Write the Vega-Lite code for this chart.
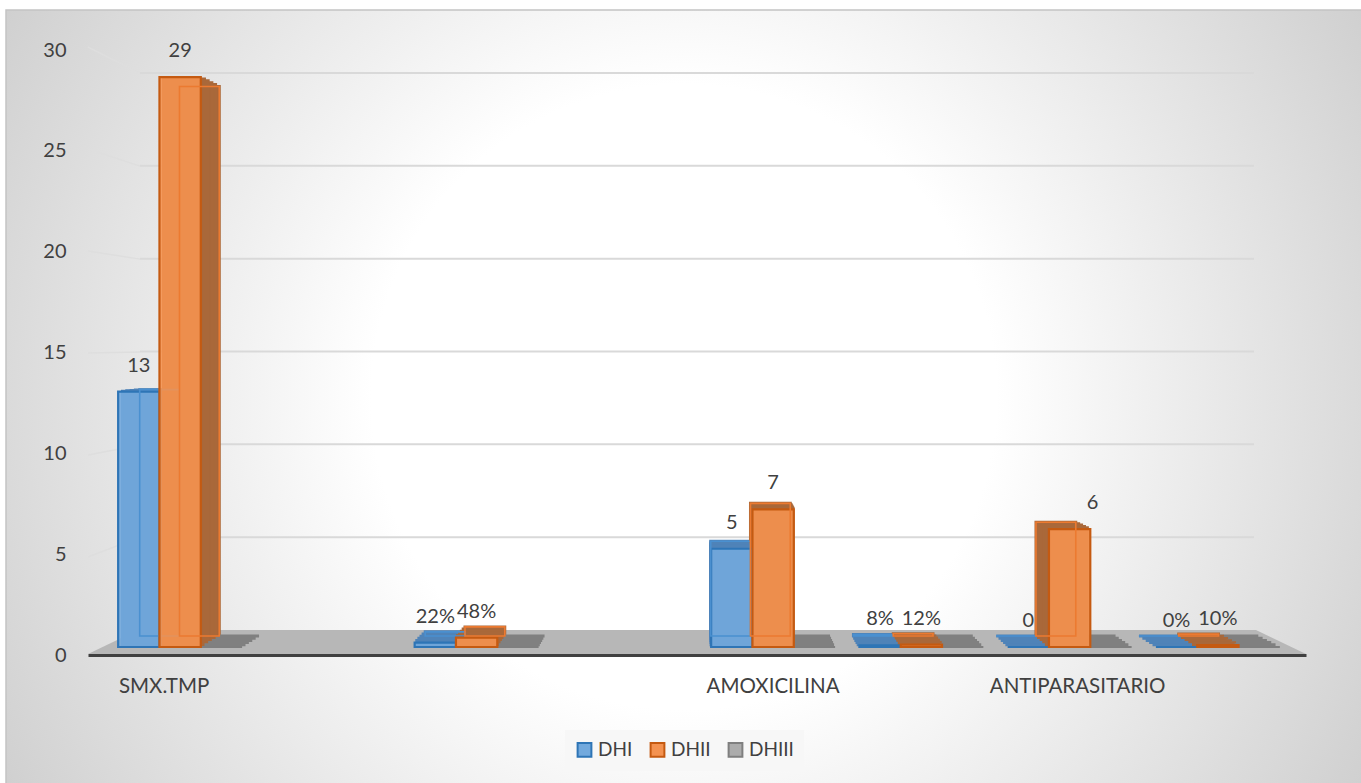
{
  "$schema": "https://vega.github.io/schema/vega-lite/v6.json",
  "width": 1361,
  "height": 783,
  "autosize": {"type": "none"},
  "padding": 0,
  "background": "white",
  "config": {
    "font": "Lato",
    "view": {"stroke": null},
    "scale": {"bandPaddingInner": 0, "bandPaddingOuter": 0, "barBandPaddingInner": 0, "bandWithNestedOffsetPaddingInner": 0, "bandWithNestedOffsetPaddingOuter": 0}
  },
  "datasets": {
    "tratamientos": [
      {"categoria": "SMX.TMP", "serie": "DHI", "valor": 13, "etiqueta": "13"},
      {"categoria": "SMX.TMP", "serie": "DHII", "valor": 29, "etiqueta": "29"},
      {"categoria": "SMX.TMP", "serie": "DHIII", "valor": 0, "etiqueta": ""},
      {"categoria": "SMX.TMP %", "serie": "DHI", "valor": 0.22, "etiqueta": "22%"},
      {"categoria": "SMX.TMP %", "serie": "DHII", "valor": 0.48, "etiqueta": "48%"},
      {"categoria": "SMX.TMP %", "serie": "DHIII", "valor": 0, "etiqueta": ""},
      {"categoria": "AMOXICILINA", "serie": "DHI", "valor": 5, "etiqueta": "5"},
      {"categoria": "AMOXICILINA", "serie": "DHII", "valor": 7, "etiqueta": "7"},
      {"categoria": "AMOXICILINA", "serie": "DHIII", "valor": 0, "etiqueta": ""},
      {"categoria": "AMOXICILINA %", "serie": "DHI", "valor": 0.08, "etiqueta": "8%"},
      {"categoria": "AMOXICILINA %", "serie": "DHII", "valor": 0.12, "etiqueta": "12%"},
      {"categoria": "AMOXICILINA %", "serie": "DHIII", "valor": 0, "etiqueta": ""},
      {"categoria": "ANTIPARASITARIO", "serie": "DHI", "valor": 0, "etiqueta": "0"},
      {"categoria": "ANTIPARASITARIO", "serie": "DHII", "valor": 6, "etiqueta": "6"},
      {"categoria": "ANTIPARASITARIO", "serie": "DHIII", "valor": 0, "etiqueta": ""},
      {"categoria": "ANTIPARASITARIO %", "serie": "DHI", "valor": 0, "etiqueta": "0%"},
      {"categoria": "ANTIPARASITARIO %", "serie": "DHII", "valor": 0.10, "etiqueta": "10%"},
      {"categoria": "ANTIPARASITARIO %", "serie": "DHIII", "valor": 0, "etiqueta": ""}
    ]
  },
  "resolve": {"scale": {"x": "independent", "y": "independent", "fill": "independent", "stroke": "independent"}},
  "layer": [
    {
      "data": {"values": [{}]},
      "mark": {
        "type": "rect",
        "stroke": "#c4c4c4",
        "strokeWidth": 1.5,
        "fill": {
          "gradient": "radial", "x1": 0.5, "y1": 0.5, "r1": 0, "x2": 0.5, "y2": 0.5, "r2": 0.72,
          "stops": [
            {"offset": 0, "color": "#ffffff"},
            {"offset": 0.32, "color": "#ffffff"},
            {"offset": 1, "color": "#bcbcbc"}
          ]
        }
      },
      "encoding": {
        "x": {"datum": 0, "axis": null, "scale": {"domain": [0, 1], "range": [6, 1362]}},
        "x2": {"datum": 1},
        "y": {"datum": 0, "axis": null, "scale": {"domain": [0, 1], "range": [784, 10]}},
        "y2": {"datum": 1}
      }
    },
    {
      "data": {"values": [{"nivel": 5}, {"nivel": 10}, {"nivel": 15}, {"nivel": 20}, {"nivel": 25}, {"nivel": 30}]},
      "mark": {"type": "rule", "color": "#d9d9d9", "strokeWidth": 2},
      "encoding": {
        "x": {"datum": 0, "axis": null, "scale": {"domain": [0, 1], "range": [140, 1254]}},
        "x2": {"datum": 1},
        "y": {"field": "nivel", "type": "quantitative", "axis": null, "scale": {"domain": [0, 30], "range": [630, 73]}}
      }
    },
    {
      "data": {"values": [{}]},
      "encoding": {
        "x": {"datum": 0, "axis": null, "scale": {"domain": [0, 1], "range": [88, 140]}},
        "x2": {"datum": 1}
      },
      "layer": [
        {"mark": {"type": "rule", "color": "#dedede", "strokeWidth": 1.5}, "encoding": {"y": {"datum": 30.14, "axis": null, "scale": {"domain": [0, 30], "range": [655, 50]}}, "y2": {"datum": 28.85}}},
        {"mark": {"type": "rule", "color": "#dedede", "strokeWidth": 1.5}, "encoding": {"y": {"datum": 25.09, "axis": null, "scale": {"domain": [0, 30], "range": [655, 50]}}, "y2": {"datum": 24.24}}},
        {"mark": {"type": "rule", "color": "#dedede", "strokeWidth": 1.5}, "encoding": {"y": {"datum": 20.03, "axis": null, "scale": {"domain": [0, 30], "range": [655, 50]}}, "y2": {"datum": 19.63}}},
        {"mark": {"type": "rule", "color": "#dedede", "strokeWidth": 1.5}, "encoding": {"y": {"datum": 14.97, "axis": null, "scale": {"domain": [0, 30], "range": [655, 50]}}, "y2": {"datum": 15.02}}},
        {"mark": {"type": "rule", "color": "#dedede", "strokeWidth": 1.5}, "encoding": {"y": {"datum": 9.92, "axis": null, "scale": {"domain": [0, 30], "range": [655, 50]}}, "y2": {"datum": 10.41}}},
        {"mark": {"type": "rule", "color": "#dedede", "strokeWidth": 1.5}, "encoding": {"y": {"datum": 4.86, "axis": null, "scale": {"domain": [0, 30], "range": [655, 50]}}, "y2": {"datum": 5.85}}}
      ]
    },
    {
      "data": {"values": [{"esquina": 0}, {"esquina": 1}, {"esquina": 2}, {"esquina": 3}]},
      "mark": {"type": "area", "color": "#b7b7b7"},
      "encoding": {
        "x": {"field": "esquina", "type": "quantitative", "axis": null, "scale": {"domain": [0, 1, 2, 3], "range": [88, 138, 1256, 1306]}},
        "y": {"field": "esquina", "type": "quantitative", "axis": null, "scale": {"domain": [0, 1, 2, 3], "range": [654, 630, 630, 654]}},
        "y2": {"datum": 0}
      }
    },
    {
      "data": {"name": "tratamientos"},
      "resolve": {"scale": {"x": "independent", "y": "independent", "xOffset": "independent", "fill": "independent", "stroke": "independent"}},
      "encoding": {
        "xOffset": {"field": "serie", "type": "nominal", "scale": {"type": "band", "domain": ["DHI", "DHII", "DHIII"], "paddingInner": 0, "paddingOuter": 0.294}},
        "color": {"field": "serie", "type": "nominal", "legend": null, "scale": {"domain": ["DHI", "DHII", "DHIII"], "range": ["#4f83b8", "#a9683a", "#808080"]}},
        "stroke": {"field": "serie", "type": "nominal", "legend": null, "scale": {"domain": ["DHI", "DHII", "DHIII"], "range": ["#4f83b8", "#a9683a", "#808080"]}}
      },
      "layer": [
        {
          "mark": {"type": "bar", "strokeWidth": 3},
          "encoding": {
            "x": {"field": "categoria", "type": "nominal", "axis": null, "scale": {"domain": ["SMX.TMP", "Sin datos 1", "SMX.TMP %", "Sin datos 2", "AMOXICILINA", "AMOXICILINA %", "ANTIPARASITARIO", "ANTIPARASITARIO %"], "range": [128, 1270]}},
            "y": {"field": "valor", "type": "quantitative", "stack": null, "axis": null, "scale": {"domain": [0, 30], "range": [636, 67.5]}}
          }
        },
        {
          "mark": {"type": "bar", "strokeWidth": 3},
          "encoding": {
            "x": {"field": "categoria", "type": "nominal", "axis": null, "scale": {"domain": ["SMX.TMP", "Sin datos 1", "SMX.TMP %", "Sin datos 2", "AMOXICILINA", "AMOXICILINA %", "ANTIPARASITARIO", "ANTIPARASITARIO %"], "range": [123.6, 1274.4]}},
            "y": {"field": "valor", "type": "quantitative", "stack": null, "axis": null, "scale": {"domain": [0, 30], "range": [638.2, 65.5]}}
          }
        },
        {
          "mark": {"type": "bar", "strokeWidth": 3},
          "encoding": {
            "x": {"field": "categoria", "type": "nominal", "axis": null, "scale": {"domain": ["SMX.TMP", "Sin datos 1", "SMX.TMP %", "Sin datos 2", "AMOXICILINA", "AMOXICILINA %", "ANTIPARASITARIO", "ANTIPARASITARIO %"], "range": [119.2, 1278.8]}},
            "y": {"field": "valor", "type": "quantitative", "stack": null, "axis": null, "scale": {"domain": [0, 30], "range": [640.4, 63.5]}}
          }
        },
        {
          "mark": {"type": "bar", "strokeWidth": 3},
          "encoding": {
            "x": {"field": "categoria", "type": "nominal", "axis": null, "scale": {"domain": ["SMX.TMP", "Sin datos 1", "SMX.TMP %", "Sin datos 2", "AMOXICILINA", "AMOXICILINA %", "ANTIPARASITARIO", "ANTIPARASITARIO %"], "range": [114.8, 1283.2]}},
            "y": {"field": "valor", "type": "quantitative", "stack": null, "axis": null, "scale": {"domain": [0, 30], "range": [642.6, 61.5]}}
          }
        },
        {
          "mark": {"type": "bar", "strokeWidth": 3},
          "encoding": {
            "x": {"field": "categoria", "type": "nominal", "axis": null, "scale": {"domain": ["SMX.TMP", "Sin datos 1", "SMX.TMP %", "Sin datos 2", "AMOXICILINA", "AMOXICILINA %", "ANTIPARASITARIO", "ANTIPARASITARIO %"], "range": [110.4, 1287.6]}},
            "y": {"field": "valor", "type": "quantitative", "stack": null, "axis": null, "scale": {"domain": [0, 30], "range": [644.8, 59.5]}}
          }
        },
        {
          "transform": [{"filter": "datum.serie != 'DHII'"}],
          "mark": {"type": "bar", "strokeWidth": 2.2, "fillOpacity": 0.9},
          "encoding": {
            "x": {"field": "categoria", "type": "nominal", "axis": null, "scale": {"domain": ["SMX.TMP", "Sin datos 1", "SMX.TMP %", "Sin datos 2", "AMOXICILINA", "AMOXICILINA %", "ANTIPARASITARIO", "ANTIPARASITARIO %"], "range": [106, 1292]}},
            "y": {"field": "valor", "type": "quantitative", "stack": null, "axis": null, "scale": {"domain": [0, 30], "range": [647, 57.5]}},
            "color": {"value": null},
            "fill": {
              "field": "serie", "type": "nominal", "title": null,
              "scale": {"domain": ["DHI", "DHII", "DHIII"], "range": ["#72a9dd", "#f49250", "#acacac"]},
              "legend": {
                "orient": "none", "legendX": 565, "legendY": 730, "direction": "horizontal", "columns": 3,
                "fillColor": "#f7f7f7", "padding": 10, "symbolType": "square", "symbolSize": 190, "symbolStrokeWidth": 2,
                "symbolOpacity": 1, "labelFontSize": 19, "labelColor": "#404040", "labelOffset": 4, "columnPadding": 13, "offset": 0, "title": null
              }
            },
            "stroke": {
              "field": "serie", "type": "nominal", "title": null,
              "scale": {"domain": ["DHI", "DHII", "DHIII"], "range": ["#2e75b6", "#c55a11", "#7f7f7f"]},
              "legend": {
                "orient": "none", "legendX": 565, "legendY": 730, "direction": "horizontal", "columns": 3,
                "fillColor": "#f7f7f7", "padding": 10, "symbolType": "square", "symbolSize": 190, "symbolStrokeWidth": 2,
                "symbolOpacity": 1, "labelFontSize": 19, "labelColor": "#404040", "labelOffset": 4, "columnPadding": 13, "offset": 0, "title": null
              }
            }
          }
        },
        {
          "transform": [{"filter": "datum.serie == 'DHI'"}],
          "mark": {"type": "bar", "fillOpacity": 0, "strokeWidth": 1.6},
          "encoding": {
            "x": {"field": "categoria", "type": "nominal", "axis": null, "scale": {"domain": ["SMX.TMP", "Sin datos 1", "SMX.TMP %", "Sin datos 2", "AMOXICILINA", "AMOXICILINA %", "ANTIPARASITARIO", "ANTIPARASITARIO %"], "range": [128, 1270]}},
            "y": {"field": "valor", "type": "quantitative", "stack": null, "axis": null, "scale": {"domain": [0, 30], "range": [636, 67.5]}},
            "stroke": {"field": "serie", "type": "nominal", "legend": null, "scale": {"domain": ["DHI", "DHII", "DHIII"], "range": ["#4a90d0", "#ec7a30", "#7f7f7f"]}}
          }
        },
        {
          "transform": [{"filter": "datum.serie == 'DHII'"}],
          "mark": {"type": "bar", "strokeWidth": 2.2, "fillOpacity": 0.9},
          "encoding": {
            "x": {"field": "categoria", "type": "nominal", "axis": null, "scale": {"domain": ["SMX.TMP", "Sin datos 1", "SMX.TMP %", "Sin datos 2", "AMOXICILINA", "AMOXICILINA %", "ANTIPARASITARIO", "ANTIPARASITARIO %"], "range": [106, 1292]}},
            "y": {"field": "valor", "type": "quantitative", "stack": null, "axis": null, "scale": {"domain": [0, 30], "range": [647, 57.5]}},
            "color": {"value": null},
            "fill": {"field": "serie", "type": "nominal", "legend": null, "scale": {"domain": ["DHI", "DHII", "DHIII"], "range": ["#72a9dd", "#f49250", "#acacac"]}},
            "stroke": {"field": "serie", "type": "nominal", "legend": null, "scale": {"domain": ["DHI", "DHII", "DHIII"], "range": ["#2e75b6", "#c55a11", "#7f7f7f"]}}
          }
        },
        {
          "transform": [{"filter": "datum.serie == 'DHII'"}],
          "mark": {"type": "bar", "fillOpacity": 0, "strokeWidth": 1.6},
          "encoding": {
            "x": {"field": "categoria", "type": "nominal", "axis": null, "scale": {"domain": ["SMX.TMP", "Sin datos 1", "SMX.TMP %", "Sin datos 2", "AMOXICILINA", "AMOXICILINA %", "ANTIPARASITARIO", "ANTIPARASITARIO %"], "range": [128, 1270]}},
            "y": {"field": "valor", "type": "quantitative", "stack": null, "axis": null, "scale": {"domain": [0, 30], "range": [636, 67.5]}},
            "stroke": {"field": "serie", "type": "nominal", "legend": null, "scale": {"domain": ["DHI", "DHII", "DHIII"], "range": ["#4a90d0", "#ec7a30", "#7f7f7f"]}}
          }
        },
        {
          "transform": [{"filter": "datum.etiqueta != '6'"}],
          "mark": {"type": "text", "dy": -26, "fontSize": 20, "baseline": "middle"},
          "encoding": {
            "x": {"field": "categoria", "type": "nominal", "axis": null, "scale": {"type": "band", "domain": ["SMX.TMP", "Sin datos 1", "SMX.TMP %", "Sin datos 2", "AMOXICILINA", "AMOXICILINA %", "ANTIPARASITARIO", "ANTIPARASITARIO %"], "range": [106, 1292]}},
            "y": {"field": "valor", "type": "quantitative", "stack": null, "axis": null, "scale": {"domain": [0, 30], "range": [647, 57.5]}},
            "text": {"field": "etiqueta"},
            "color": {"value": "#404040"},
            "stroke": {"value": null}
          }
        },
        {
          "transform": [{"filter": "datum.etiqueta == '6'"}],
          "mark": {"type": "text", "dy": -26, "dx": 23, "fontSize": 20, "baseline": "middle"},
          "encoding": {
            "x": {"field": "categoria", "type": "nominal", "axis": null, "scale": {"type": "band", "domain": ["SMX.TMP", "Sin datos 1", "SMX.TMP %", "Sin datos 2", "AMOXICILINA", "AMOXICILINA %", "ANTIPARASITARIO", "ANTIPARASITARIO %"], "range": [106, 1292]}},
            "y": {"field": "valor", "type": "quantitative", "stack": null, "axis": null, "scale": {"domain": [0, 30], "range": [647, 57.5]}},
            "text": {"field": "etiqueta"},
            "color": {"value": "#404040"},
            "stroke": {"value": null}
          }
        }
      ]
    },
    {
      "data": {"name": "tratamientos"},
      "mark": {"type": "point", "opacity": 0},
      "encoding": {
        "x": {
          "field": "categoria", "type": "nominal",
          "scale": {"domain": ["SMX.TMP", "Sin datos 1", "SMX.TMP %", "Sin datos 2", "AMOXICILINA", "AMOXICILINA %", "ANTIPARASITARIO", "ANTIPARASITARIO %"], "range": [88, 1306], "type": "band"},
          "axis": {
            "orient": "bottom", "offset": -128, "zindex": 1, "title": null, "ticks": false, "grid": false,
            "domainColor": "#404040", "domainWidth": 3,
            "labelAngle": 0, "labelFontSize": 20.5, "labelColor": "#404040", "labelPadding": 21,
            "labelExpr": "indexof(datum.value, '%') >= 0 || indexof(datum.value, 'Sin') == 0 ? '' : datum.value"
          }
        },
        "y": {
          "field": "valor", "type": "quantitative",
          "scale": {"domain": [0, 30], "range": [655, 50]},
          "axis": {
            "orient": "left", "offset": -66, "zindex": 1, "title": null, "ticks": false, "grid": false, "domain": false,
            "values": [0, 5, 10, 15, 20, 25, 30], "labelFontSize": 20, "labelColor": "#404040", "labelPadding": 0
          }
        }
      }
    }
  ]
}
